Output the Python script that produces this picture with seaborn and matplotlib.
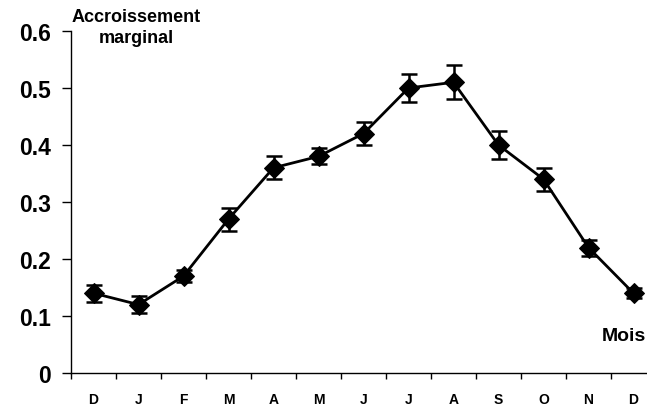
import matplotlib
matplotlib.use("Agg")
import matplotlib.pyplot as plt
import seaborn as sns
import numpy as np
import pandas as pd

# Monthly marginal increment (mean and error)
months = ["D", "J", "F", "M", "A", "M", "J", "J", "A", "S", "O", "N", "D"]
increment = [0.14, 0.12, 0.17, 0.27, 0.36, 0.38, 0.42, 0.50, 0.51, 0.40, 0.34, 0.22, 0.14]
error = [0.015, 0.015, 0.011, 0.02, 0.02, 0.014, 0.02, 0.025, 0.03, 0.025, 0.02, 0.014, 0.009]
y_ticks = [0, 0.1, 0.2, 0.3, 0.4, 0.5, 0.6]
y_tick_labels = ["0", "0.1", "0.2", "0.3", "0.4", "0.5", "0.6"]

sns.set_theme(style="white")
plt.rcParams["font.family"] = ["Liberation Sans", "DejaVu Sans"]
plt.rcParams["font.weight"] = "bold"
plt.rcParams["text.color"] = "black"
plt.rcParams["xtick.color"] = "black"
plt.rcParams["ytick.color"] = "black"

df = pd.DataFrame({"pos": np.arange(len(months)), "value": increment, "err": error})

fig = plt.figure(figsize=(6.47, 4.10), dpi=100)
ax = fig.add_axes([71 / 647, 36 / 410, 585 / 647, 342 / 410])

ax.errorbar(df["pos"], df["value"], yerr=df["err"], fmt="none",
            ecolor="black", elinewidth=1.8, capsize=6, capthick=1.8, zorder=2)
sns.lineplot(data=df, x="pos", y="value", ax=ax, color="black", linewidth=2,
             marker="D", markersize=10.5, markeredgecolor="black",
             markerfacecolor="black", zorder=3)

ax.set_xlim(-0.5, len(months) - 0.5)
ax.set_ylim(0, 0.6)
ax.set_xlabel("")
ax.set_ylabel("")

# Tick marks between months, labels centred on months
ax.set_xticks(np.arange(-0.5, len(months), 1.0))
ax.set_xticklabels([])
ax.set_xticks(np.arange(len(months)), minor=True)
ax.set_xticklabels(months, minor=True, fontsize=10, fontweight="bold")
ax.tick_params(axis="x", which="major", direction="out", length=4, width=1,
               color="black", bottom=True)
ax.tick_params(axis="x", which="minor", length=0, pad=13.5)

ax.set_yticks(y_ticks)
ax.set_yticklabels(y_tick_labels, fontsize=16.5, fontweight="bold")
ax.tick_params(axis="y", direction="out", length=6.5, width=1, color="black",
               left=True, pad=8)

for side in ["top", "right"]:
    ax.spines[side].set_visible(False)
for side in ["left", "bottom"]:
    ax.spines[side].set_color("black")
    ax.spines[side].set_linewidth(1)
    ax.spines[side].set_visible(True)

fig.text(136 / 647, 1 - 28 / 410, "Accroissement\nmarginal", ha="center",
         va="center", fontsize=13, fontweight="bold", linespacing=1.35)
fig.text(602 / 647, 1 - 337 / 410, "Mois", ha="left", va="center",
         fontsize=14, fontweight="bold")

fig.savefig("out.png", dpi=100)
